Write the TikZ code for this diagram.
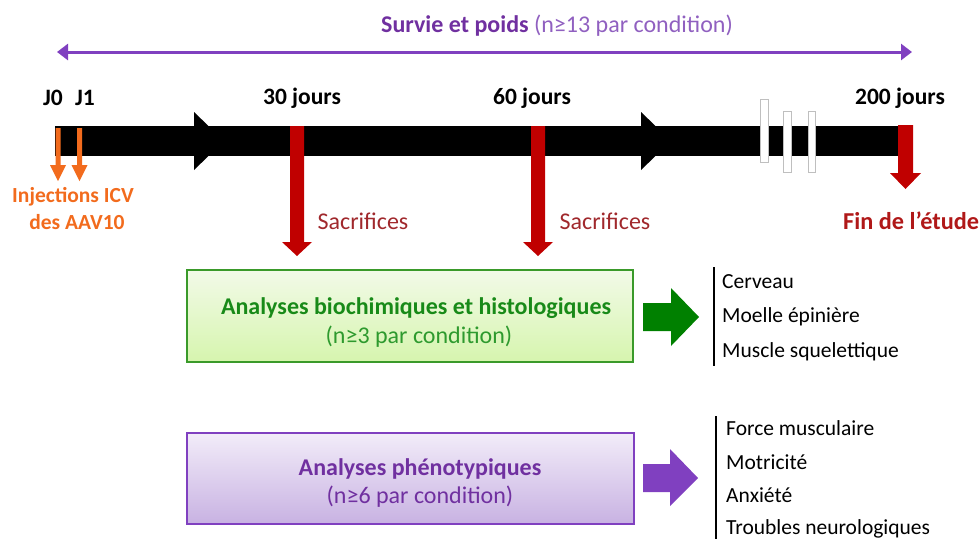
\documentclass[tikz,border=0pt]{standalone}
\usepackage{fontspec}
\setmainfont{Carlito}
\usetikzlibrary{arrows.meta}
\definecolor{purp}{HTML}{8040C0}
\definecolor{purptext}{HTML}{7030A0}
\definecolor{purplight}{HTML}{9060C0}
\definecolor{sred}{HTML}{C00000}
\definecolor{finred}{HTML}{B01818}
\definecolor{sacred}{HTML}{A0282C}
\definecolor{orng}{HTML}{F26B1D}
\definecolor{gtitle}{HTML}{188A18}
\definecolor{gsub}{HTML}{2E9A2E}
\definecolor{gborder}{HTML}{3A9A2A}
\definecolor{garrow}{HTML}{008000}
\definecolor{gtop}{HTML}{F2FAE8}
\definecolor{gbot}{HTML}{D6F5AE}
\definecolor{ptop}{HTML}{F2ECF9}
\definecolor{pbot}{HTML}{C8B2E2}
\tikzset{
  lbl/.style={font=\fontsize{23.5}{25}\selectfont\bfseries, inner sep=0pt},
  inj/.style={font=\fontsize{21.5}{23}\selectfont\bfseries, text=orng, inner sep=0pt},
  sacr/.style={font=\fontsize{24}{26}\selectfont, text=sacred, inner sep=0pt},
  item/.style={font=\fontsize{21.5}{23}\selectfont, anchor=west, inner sep=0pt},
  boxtitle/.style={font=\fontsize{24}{26}\selectfont\bfseries, inner sep=0pt},
  boxsub/.style={font=\fontsize{24}{26}\selectfont, inner sep=0pt},
  brk/.style={fill=white, draw=black!25, line width=0.8pt},
}
\begin{document}
\begin{tikzpicture}[x=1pt,y=-1pt]
\useasboundingbox (0,0) rectangle (980,539);

% survival double arrow
\coordinate (sl) at (57,52);
\coordinate (sr) at (912,52);
\draw[purp, line width=3pt, {Triangle[length=11pt,width=16pt]}-{Triangle[length=11pt,width=16pt]}] (sl) -- (sr);
\node[font=\fontsize{24}{26}\selectfont, inner sep=0pt] (surv) at (557,26)
  {\textcolor{purptext}{\bfseries Survie et poids} \textcolor{purplight}{(n≥13 par condition)}};

% timeline bar
\fill[black] (55,126) rectangle (902,156);
\fill[black] (194,112) -- (224,141) -- (194,170) -- cycle;
\fill[black] (641,112) -- (671,141) -- (641,170) -- cycle;

% break marks
\filldraw[brk] (760,99) rectangle (768,162);
\filldraw[brk] (783,111) rectangle (791,172);
\filldraw[brk] (808,111) rectangle (815,172);

% time labels
\node[lbl] (j0) at (53,98) {J0};
\node[lbl] (j1) at (85,98) {J1};
\node[lbl] (d30) at (302,98) {30 jours};
\node[lbl] (d60) at (532,98) {60 jours};
\node[lbl] (d200) at (900,98) {200 jours};

% orange injection arrows
\fill[orng] (55.5,128) -- (60.5,128) -- (60.5,165) -- (66,165) -- (58,181) -- (50,165) -- (55.5,165) -- cycle;
\fill[orng] (77,128) -- (82,128) -- (82,165) -- (87.5,165) -- (79.5,181) -- (71.5,165) -- (77,165) -- cycle;
\node[inj] (inj1) at (73,197) {Injections ICV};
\node[inj] (inj2) at (77,222) {des AAV10};

% red sacrifice arrows
\fill[sred] (290,126) -- (304,126) -- (304,242) -- (312,242) -- (297,256) -- (282,242) -- (290,242) -- cycle;
\fill[sred] (531,126) -- (545,126) -- (545,242) -- (553,242) -- (538,256) -- (523,242) -- (531,242) -- cycle;
\fill[sred] (898,125) -- (913,125) -- (913,173) -- (921,173) -- (905.5,189) -- (890,173) -- (898,173) -- cycle;

\node[sacr] (s1) at (363,221) {Sacrifices};
\node[sacr] (s2) at (605,221) {Sacrifices};
\node[lbl, text=finred, anchor=west, font=\fontsize{24.3}{26}\selectfont\bfseries] (fin) at (843,221) {Fin de l’étude};

% green box
\shade[top color=gtop, bottom color=gbot] (187,270) rectangle (633,362);
\draw[gborder, line width=2pt] (187,270) rectangle (633,362);
\node[boxtitle, text=gtitle] (gt) at (416,308) {Analyses biochimiques et histologiques};
\node[boxsub, text=gsub] (gs) at (419,337) {(n≥3 par condition)};
\fill[garrow] (643,303) -- (671,303) -- (671,288) -- (699,317) -- (671,346) -- (671,331) -- (643,331) -- cycle;

% purple box
\shade[top color=ptop, bottom color=pbot] (187,433) rectangle (634,524);
\draw[purp, line width=2pt] (187,433) rectangle (634,524);
\node[boxtitle, text=purptext] (pt) at (420,469) {Analyses phénotypiques};
\node[boxsub, text=purptext] (ps) at (420,497) {(n≥6 par condition)};
\fill[purp] (643,464) -- (670,464) -- (670,449) -- (698,478) -- (670,506) -- (670,492) -- (643,492) -- cycle;

% lists
\draw[black, line width=2pt] (714,267) -- (714,366);
\node[item] (c1) at (722,282) {Cerveau};
\node[item] (c2) at (722,317) {Moelle épinière};
\node[item] (c3) at (722,352) {Muscle squelettique};

\draw[black, line width=2pt] (716,416) -- (716,539);
\node[item] (p1) at (726,428) {Force musculaire};
\node[item] (p2) at (726,462) {Motricité};
\node[item] (p3) at (726,495) {Anxiété};
\node[item] (p4) at (726,529) {Troubles neurologiques};
\end{tikzpicture}
\end{document}
